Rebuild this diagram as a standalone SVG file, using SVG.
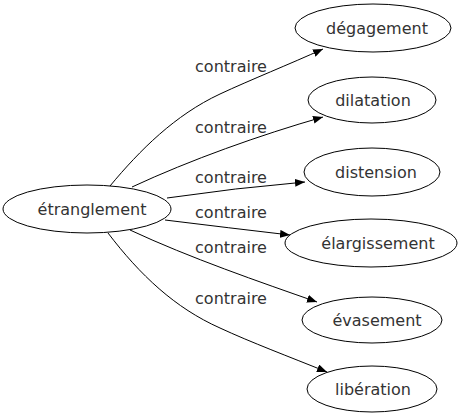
<svg xmlns="http://www.w3.org/2000/svg" width="463" height="419" viewBox="0 0 463 419">
<defs>
<style>
.node ellipse{fill:#fff;stroke:#000;stroke-width:1}
text{font-family:"DejaVu Sans",sans-serif;font-size:16px;fill:#333;text-anchor:middle}
.edges path{fill:none;stroke:#000;stroke-width:1}
</style>
<marker id="arr" markerUnits="userSpaceOnUse" markerWidth="11" markerHeight="8" refX="10" refY="4" orient="auto">
<path d="M0,0 L10,4 L0,8 Z" fill="#000"/>
</marker>
</defs>
<rect width="463" height="419" fill="#fff"/>
<g class="edges">
<path d="M110,186 C140,150 175,115 220,94 C250,80 290,64 323,49" marker-end="url(#arr)"/>
<path d="M132,187 C190,160 260,135 323,117" marker-end="url(#arr)"/>
<path d="M167,198 Q235,188 305,182" marker-end="url(#arr)"/>
<path d="M165,220 Q230,228 290,235" marker-end="url(#arr)"/>
<path d="M130,230 C190,258 260,282 317,302" marker-end="url(#arr)"/>
<path d="M108,233 C140,275 175,308 220,328 C250,342 290,357 327,372" marker-end="url(#arr)"/>
<text x="231" y="72">contraire</text>
<text x="231" y="133">contraire</text>
<text x="231" y="183">contraire</text>
<text x="231" y="218">contraire</text>
<text x="231" y="253">contraire</text>
<text x="231" y="304">contraire</text>
</g>
<g id="n0" class="node"><ellipse cx="87" cy="209" rx="84" ry="24"/><text x="92" y="215">étranglement</text></g>
<g id="n1" class="node"><ellipse cx="373" cy="28" rx="78" ry="24"/><text x="377" y="34">dégagement</text></g>
<g id="n2" class="node"><ellipse cx="372" cy="100" rx="64" ry="23"/><text x="373" y="106">dilatation</text></g>
<g id="n3" class="node"><ellipse cx="372" cy="172" rx="68" ry="24"/><text x="376" y="178">distension</text></g>
<g id="n4" class="node"><ellipse cx="371" cy="243" rx="86" ry="24"/><text x="378" y="249">élargissement</text></g>
<g id="n5" class="node"><ellipse cx="372" cy="320" rx="70" ry="23"/><text x="377" y="326">évasement</text></g>
<g id="n6" class="node"><ellipse cx="372" cy="389" rx="65" ry="23"/><text x="373" y="395">libération</text></g>
</svg>
